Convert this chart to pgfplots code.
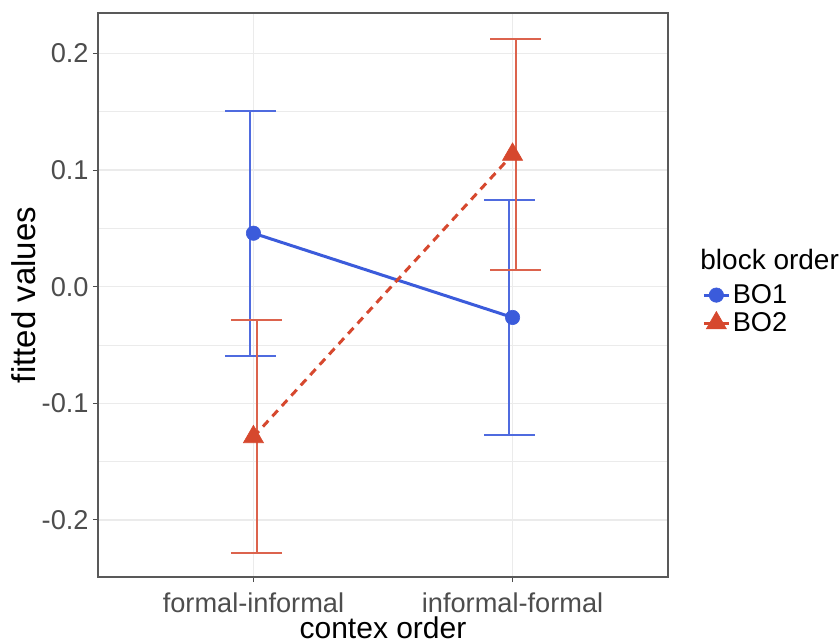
\documentclass[border=0pt]{standalone}
\usepackage{pgfplots}
\pgfplotsset{compat=1.18}
\usepackage{fontspec}
\setmainfont{Liberation Sans}
\definecolor{cblue}{RGB}{59,91,219}
\definecolor{cred}{RGB}{214,72,46}
\definecolor{gridc}{RGB}{235,235,235}
\definecolor{ticklab}{RGB}{77,77,77}
\begin{document}
\begin{tikzpicture}
\begin{axis}[
  scale only axis, width=285pt, height=282pt,
  xmin=0.4, xmax=2.6, ymin=-0.2489, ymax=0.2346,
  xtick={1,2}, xticklabels={formal-informal, informal-formal},
  ytick={-0.2,-0.1,0,0.1,0.2},
  yticklabels={-0.2,-0.1,0.0,0.1,0.2},
  minor ytick={-0.15,-0.05,0.05,0.15},
  grid=both,
  major grid style={gridc, line width=0.6pt},
  minor grid style={gridc, line width=0.4pt},
  axis line style={black!65, line width=0.7pt},
  tick align=outside, major tick length=2.5pt, minor tick length=0pt,
  tick style={black!70, line width=0.5pt},
  xtick pos=bottom, ytick pos=left,
  /pgf/number format/assume math mode=true,
  ticklabel style={font=\fontsize{13.6}{16}\selectfont, text=ticklab},
  xticklabel style={inner sep=0pt, anchor=north, yshift=-5pt},
  yticklabel style={inner sep=0pt, anchor=east, xshift=-2pt},
  xlabel={contex order}, ylabel={fitted values},
  xlabel style={font=\fontsize{15}{18}\selectfont, at={(axis description cs:0.5,-0.1095)}, anchor=base, inner sep=0pt},
  ylabel style={font=\fontsize{16.5}{19}\selectfont, at={(axis description cs:-0.1105,0.5)}, anchor=base, inner sep=0pt},
  legend style={at={(axis description cs:1.0596,0.475)}, anchor=west, draw=none, fill=none,
    font=\fontsize{13.6}{16}\selectfont, row sep=1pt, inner sep=0pt,
    nodes={inner xsep=1.2pt, inner ysep=1pt}},
  legend cell align=left,
  legend image code/.code={\draw[#1, solid] (0pt,0pt) -- (12.5pt,0pt);
     \draw[#1, solid] plot coordinates {(6.25pt,0pt)};},
]
% error bars
\addplot[forget plot, draw=none, mark=none,
  error bars/.cd, y dir=both, y explicit,
  error bar style={cblue!90, line width=1pt},
  error mark options={cblue!90, line width=1pt, mark size=12.75pt, rotate=90}]
  coordinates {(0.988,0.0458) +- (0,0.1049) (1.988,-0.0264) +- (0,0.1007)};
\addplot[forget plot, draw=none, mark=none,
  error bars/.cd, y dir=both, y explicit,
  error bar style={cred!85, line width=1pt},
  error mark options={cred!85, line width=1pt, mark size=12.75pt, rotate=90}]
  coordinates {(1.012,-0.1288) +- (0,0.0998) (2.012,0.1133) +- (0,0.0990)};
% main series
\addplot[cblue, line width=1.5pt, mark=*, mark size=3.6pt, mark options={solid, line width=0.3pt}]
  coordinates {(1,0.0458) (2,-0.0264)};
\addlegendentry{BO1}
\addplot[cred, line width=1.5pt, dash pattern=on 4pt off 3pt, mark=triangle*, mark size=5.8pt, mark options={solid, line width=0.3pt}]
  coordinates {(1,-0.1288) (2,0.1133)};
\addlegendentry{BO2}
\end{axis}
\node[anchor=base west, inner sep=0pt, font=\fontsize{14}{17}\selectfont] at (301pt,153.5pt) {block order};
\pgfresetboundingbox
\path (-49pt,-33pt) rectangle (370.5pt,288.5pt);
\end{tikzpicture}
\end{document}
